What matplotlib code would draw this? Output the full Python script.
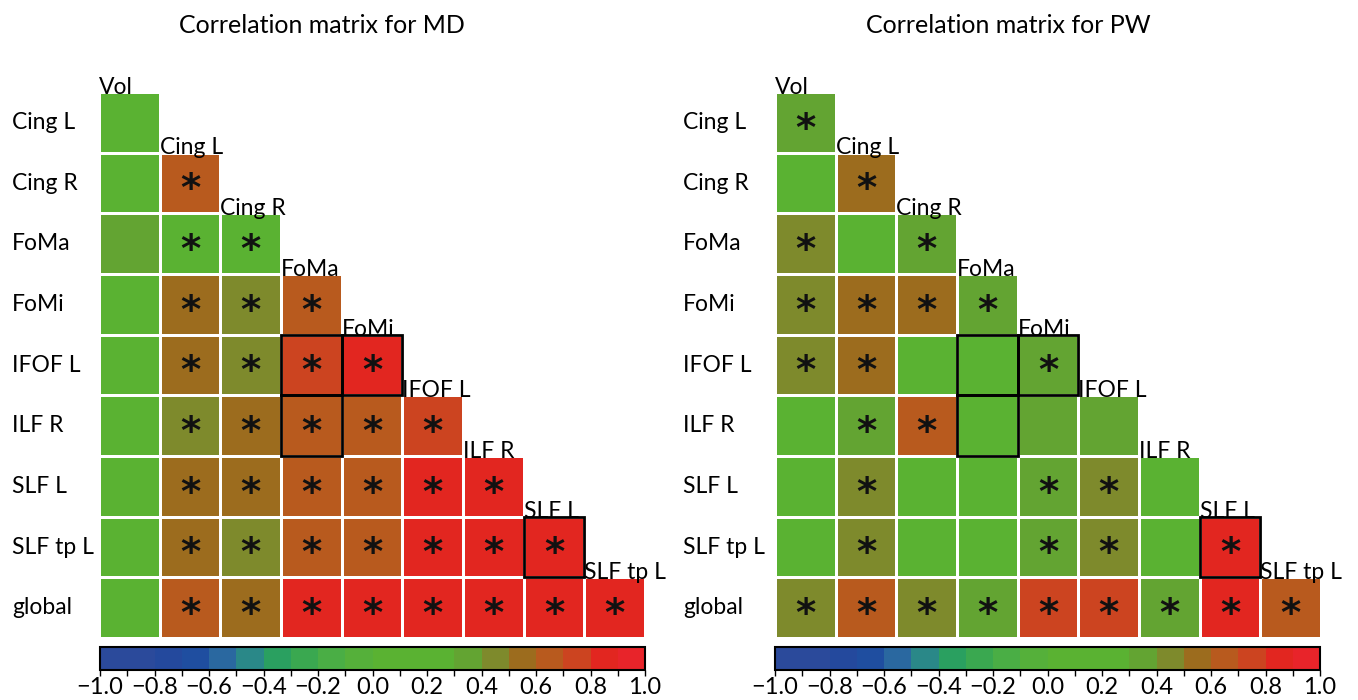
import matplotlib
matplotlib.use("Agg")
import matplotlib.pyplot as plt
import numpy as np
from matplotlib.colors import ListedColormap, BoundaryNorm
from matplotlib.patches import Rectangle
from matplotlib.transforms import blended_transform_factory

plt.rcParams['font.family'] = ['Lato', 'DejaVu Sans']

# row / column names of the lower triangle
row_names = ["Cing L", "Cing R", "FoMa", "FoMi", "IFOF L", "ILF R", "SLF L", "SLF tp L", "global"]
col_names = ["Vol", "Cing L", "Cing R", "FoMa", "FoMi", "IFOF L", "ILF R", "SLF L", "SLF tp L"]

# correlation values, row i holds columns 0..i
md_vals = [
    [0.10],
    [0.10, 0.65],
    [0.32, 0.22, 0.22],
    [0.10, 0.55, 0.45, 0.65],
    [0.10, 0.55, 0.45, 0.75, 0.85],
    [0.10, 0.45, 0.55, 0.62, 0.62, 0.75],
    [0.10, 0.55, 0.55, 0.62, 0.62, 0.85, 0.85],
    [0.10, 0.55, 0.45, 0.62, 0.62, 0.85, 0.85, 0.88],
    [0.10, 0.65, 0.55, 0.85, 0.85, 0.88, 0.85, 0.88, 0.88],
]
md_sig = [
    [0],
    [0, 1],
    [0, 1, 1],
    [0, 1, 1, 1],
    [0, 1, 1, 1, 1],
    [0, 1, 1, 1, 1, 1],
    [0, 1, 1, 1, 1, 1, 1],
    [0, 1, 1, 1, 1, 1, 1, 1],
    [0, 1, 1, 1, 1, 1, 1, 1, 1],
]

pw_vals = [
    [0.35],
    [0.10, 0.55],
    [0.45, 0.10, 0.32],
    [0.45, 0.55, 0.55, 0.32],
    [0.45, 0.55, 0.10, 0.12, 0.32],
    [0.10, 0.35, 0.65, 0.12, 0.32, 0.32],
    [0.10, 0.45, 0.10, 0.10, 0.32, 0.48, 0.10],
    [0.10, 0.45, 0.10, 0.10, 0.32, 0.48, 0.10, 0.85],
    [0.45, 0.65, 0.45, 0.32, 0.75, 0.75, 0.32, 0.85, 0.65],
]
pw_sig = [
    [1],
    [0, 1],
    [1, 0, 1],
    [1, 1, 1, 1],
    [1, 1, 0, 0, 1],
    [0, 1, 1, 0, 0, 0],
    [0, 1, 0, 0, 1, 1, 0],
    [0, 1, 0, 0, 1, 1, 0, 1],
    [1, 1, 1, 1, 1, 1, 1, 1, 1],
]

# highlighted cells (row, col)
boxed = [(4, 3), (4, 4), (5, 3), (7, 7)]

# colour bar ticks
cbar_ticks = [-1.0, -0.8, -0.6, -0.4, -0.2, 0.0, 0.2, 0.4, 0.6, 0.8, 1.0]

# discrete colour scale, 0.1 wide bins from -1 to 1
bin_colors = ["#2b4a9b", "#2b4a9b", "#24499d", "#1f4ea0", "#2a68a0",
              "#2a8888", "#2aa060", "#3aa850", "#4aae45", "#55b03a",
              "#5ab232", "#5ab232", "#5ab232", "#63a432", "#7e8a2c",
              "#9c6c1e", "#b85a1e", "#cc4420", "#e22620", "#e8242a"]
cmap = ListedColormap(bin_colors)
norm = BoundaryNorm(np.linspace(-1, 1, 21), cmap.N)


def to_matrix(rows):
    m = np.full((9, 9), np.nan)
    for i, r in enumerate(rows):
        m[i, :len(r)] = r
    return m


def draw_panel(fig, rect, cbar_rect, vals, sig, title, label_x, title_x):
    ax = fig.add_axes(rect)
    m = np.ma.masked_invalid(to_matrix(vals))
    mesh = ax.pcolormesh(np.arange(10), np.arange(10), m, cmap=cmap, norm=norm,
                         edgecolors="white", linewidth=2)
    ax.set_xlim(0, 9)
    ax.set_ylim(9, 0)
    ax.axis("off")

    for i, r in enumerate(sig):
        for j, s in enumerate(r):
            if s:
                ax.text(j + 0.5, i + 0.62, "*", ha="center", va="center",
                        fontsize=28, fontweight="bold", color="#111111",
                        family="DejaVu Sans")

    for (i, j) in boxed:
        ax.add_patch(Rectangle((j, i), 1, 1, fill=False, edgecolor="black", lw=2, zorder=5))

    # column names sit on top of the diagonal cells
    for j, name in enumerate(col_names):
        ax.text(j + 0.0, j + 0.03, name, ha="left", va="baseline", fontsize=16.5, zorder=6)

    tr = blended_transform_factory(fig.transFigure, ax.transData)
    for i, name in enumerate(row_names):
        ax.text(label_x, i + 0.5, name, transform=tr, ha="left", va="center", fontsize=16.5)

    fig.text(title_x, 0.963, title, ha="center", va="center", fontsize=18)

    cax = fig.add_axes(cbar_rect)
    cb = fig.colorbar(mesh, cax=cax, orientation="horizontal")
    cb.set_ticks(cbar_ticks)
    cb.ax.set_xticks(np.arange(-1, 1.01, 0.1), minor=True)
    cb.ax.tick_params(which="both", length=4, width=1, direction="out", pad=1)
    cb.outline.set_linewidth(1.5)
    cb.ax.set_xticklabels([f"{t:.1f}".replace("-", "\u2212") for t in cbar_ticks], fontsize=17)


fig = plt.figure(figsize=(13.58, 7.0), dpi=100)

draw_panel(fig, [99 / 1358, 62 / 700, 546 / 1358, 546 / 700],
           [100 / 1358, 30 / 700, 545 / 1358, 23 / 700],
           md_vals, md_sig, "Correlation matrix for MD", 12 / 1358, 322 / 1358)
draw_panel(fig, [775 / 1358, 62 / 700, 546 / 1358, 546 / 700],
           [775 / 1358, 30 / 700, 545 / 1358, 23 / 700],
           pw_vals, pw_sig, "Correlation matrix for PW", 683 / 1358, 1008 / 1358)

fig.savefig("out.png", dpi=100)
